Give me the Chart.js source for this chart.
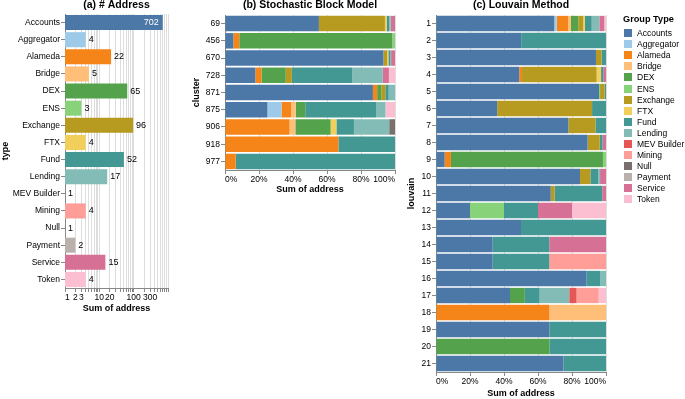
<!DOCTYPE html>
<html>
<head>
<meta charset="utf-8">
<script src="https://cdn.jsdelivr.net/npm/chart.js@4.4.1/dist/chart.umd.min.js"></script>
<style>
  body { margin: 0; background: #fff; }
  #wrap { position: relative; width: 685px; height: 399px; overflow: hidden; font-family: 'Liberation Sans', Arial, sans-serif; }
  #wrap canvas { position: absolute; left: 0; top: 0; }
  #legend { position: absolute; left: 623px; top: 13px; color: #000; }
  #legend .ttl { font-weight: bold; font-size: 9.2px; height: 12px; line-height: 12px; margin-bottom: 2.7px; }
  #legend .item { height: 11.07px; display: flex; align-items: center; font-size: 8.5px; }
  #legend .sw { width: 8px; height: 8px; margin-left: 1px; margin-right: 5px; }
</style>
</head>
<body>
<div id="wrap">
  <canvas id="chartA" width="685" height="399"></canvas>
  <canvas id="chartB" width="685" height="399"></canvas>
  <canvas id="chartC" width="685" height="399"></canvas>
  <div id="legend"></div>
</div>
<script>
// group types, in stacking / legend order
const groupTypes = ['Accounts', 'Aggregator', 'Alameda', 'Bridge', 'DEX', 'ENS', 'Exchange', 'FTX',
  'Fund', 'Lending', 'MEV Builder', 'Mining', 'Null', 'Payment', 'Service', 'Token'];
const groupColors = ['#4c78a8', '#9ecae9', '#f58518', '#ffbf79', '#54a24b', '#88d27a', '#b79a20', '#f2cf5b',
  '#439894', '#83bcb6', '#e45756', '#ff9d98', '#79706e', '#bab0ac', '#d67195', '#fcbfd2'];

// (a) number of addresses per type
const addressCounts = [702, 4, 22, 5, 65, 3, 96, 4, 52, 17, 1, 4, 1, 2, 15, 4];
const logTickValues = [1, 2, 3, 4, 5, 6, 7, 8, 9, 10, 20, 30, 40, 50, 60, 70, 80, 90,
  100, 200, 300, 400, 500, 600, 700, 800, 900, 1000];
const logTickLabels = [1, 2, 3, 10, 20, 100, 300];

// (b) share of address per cluster, columns follow groupTypes
const sbmClusters = ['69', '456', '670', '728', '871', '875', '906', '918', '977'];
const sbmShares = [
  [54.9, 0, 0, 0, 0, 0, 38.6, 1.0, 1.5, 0.9, 0, 0, 0, 0, 2.5, 0],
  [4.9, 0, 3.5, 0, 90.0, 1.6, 0, 0, 0, 0, 0, 0, 0, 0, 0, 0],
  [93.2, 0, 0, 0, 0, 0, 2.2, 0.7, 1.0, 0.6, 0, 0, 0, 0, 2.3, 0],
  [17.9, 0, 3.6, 0, 14.3, 0, 3.6, 0, 35.7, 17.9, 0, 0, 0, 0, 3.6, 3.6],
  [87.0, 0, 2.5, 0, 2.4, 0, 2.4, 0, 2.0, 3.7, 0, 0, 0, 0, 0, 0],
  [25.0, 8.3, 5.6, 2.8, 5.6, 0, 0, 0, 41.7, 5.6, 0, 0, 0, 0, 0, 5.6],
  [0, 0, 37.9, 3.4, 20.7, 0, 0, 3.4, 10.3, 20.7, 0, 0, 3.4, 0, 0, 0],
  [0, 0, 66.7, 0, 0, 0, 0, 0, 33.3, 0, 0, 0, 0, 0, 0, 0],
  [0, 0, 6.3, 0, 0, 0, 0, 0, 93.7, 0, 0, 0, 0, 0, 0, 0]
];

// (c) share of address per louvain community, columns follow groupTypes
const louvainCommunities = ['1', '2', '3', '4', '5', '6', '7', '8', '9', '10', '11',
  '12', '13', '14', '15', '16', '17', '18', '19', '20', '21'];
const louvainShares = [
  [69.6, 1.4, 6.8, 1.6, 4.3, 0, 2.9, 1.0, 4.0, 4.5, 0, 0, 0, 0, 2.9, 1.0],
  [50.1, 0, 0, 0, 0, 0, 0, 0, 49.9, 0, 0, 0, 0, 0, 0, 0],
  [94.1, 0, 0, 0, 0, 0, 3.3, 0, 2.6, 0, 0, 0, 0, 0, 0, 0],
  [49.0, 0, 1.6, 0, 0, 0, 43.9, 2.6, 1.3, 0, 0, 0, 0, 0, 1.6, 0],
  [95.9, 0, 0, 0, 0, 0.6, 2.7, 0, 0.8, 0, 0, 0, 0, 0, 0, 0],
  [36.0, 0, 0, 0, 0, 0, 55.8, 0, 8.2, 0, 0, 0, 0, 0, 0, 0],
  [77.9, 0, 0, 0, 0, 0, 15.9, 0, 6.2, 0, 0, 0, 0, 0, 0, 0],
  [89.2, 0, 0, 0, 0, 0, 7.1, 0, 1.7, 0, 0, 0, 0, 0, 2.0, 0],
  [5.1, 0, 3.7, 0, 89.4, 1.8, 0, 0, 0, 0, 0, 0, 0, 0, 0, 0],
  [84.7, 0, 0, 0, 0, 0, 6.1, 0, 4.7, 1.0, 0, 0, 0, 0, 3.5, 0],
  [67.5, 0, 0, 0, 0, 0, 2.3, 0, 28.0, 0, 0, 0, 0, 0, 2.2, 0],
  [20, 0, 0, 0, 0, 20, 0, 0, 20, 0, 0, 0, 0, 0, 20, 20],
  [50, 0, 0, 0, 0, 0, 0, 0, 50, 0, 0, 0, 0, 0, 0, 0],
  [33.3, 0, 0, 0, 0, 0, 0, 0, 33.3, 0, 0, 0, 0, 0, 33.3, 0],
  [33.3, 0, 0, 0, 0, 0, 0, 0, 33.3, 0, 0, 33.3, 0, 0, 0, 0],
  [88.6, 0, 0, 0, 0, 0, 0, 0, 7.9, 3.5, 0, 0, 0, 0, 0, 0],
  [43.5, 0, 0, 0, 8.7, 0, 0, 0, 8.7, 17.4, 4.3, 13.0, 0, 0, 0, 4.3],
  [0, 0, 66.7, 33.3, 0, 0, 0, 0, 0, 0, 0, 0, 0, 0, 0, 0],
  [66.7, 0, 0, 0, 0, 0, 0, 0, 33.3, 0, 0, 0, 0, 0, 0, 0],
  [0, 0, 0, 0, 66.7, 0, 0, 0, 33.3, 0, 0, 0, 0, 0, 0, 0],
  [75, 0, 0, 0, 0, 0, 0, 0, 25, 0, 0, 0, 0, 0, 0, 0]
];

const FONT = "'Liberation Sans', Arial, sans-serif";
Chart.defaults.font.family = FONT;
Chart.defaults.color = '#000';
Chart.defaults.animation = false;

// panel title drawn centred over the plot area
const panelTitle = {
  id: 'panelTitle',
  afterDraw(chart, args, opts) {
    const { ctx, chartArea } = chart;
    ctx.save();
    ctx.font = 'bold 10.5px ' + FONT;
    ctx.fillStyle = '#000';
    ctx.textAlign = 'center';
    ctx.textBaseline = 'middle';
    ctx.fillText(opts.text, (chartArea.left + chartArea.right) / 2, 5.5);
    ctx.restore();
  }
};

// numbers next to the bars of panel (a)
const barValues = {
  id: 'barValues',
  afterDatasetsDraw(chart) {
    const { ctx } = chart;
    const meta = chart.getDatasetMeta(0);
    const values = chart.data.datasets[0].data;
    const maxVal = Math.max(...values);
    ctx.save();
    ctx.font = '9px ' + FONT;
    ctx.textBaseline = 'middle';
    meta.data.forEach((bar, i) => {
      if (values[i] === maxVal) {
        ctx.fillStyle = '#fff';
        ctx.textAlign = 'right';
        ctx.fillText(values[i], bar.x - 4, bar.y);
      } else {
        ctx.fillStyle = '#000';
        ctx.textAlign = 'left';
        ctx.fillText(values[i], bar.x + 3, bar.y);
      }
    });
    ctx.restore();
  }
};

function axisTitle(text) {
  return { display: true, text, font: { size: 9, weight: 'bold' }, padding: 0, color: '#000' };
}

function catAxis(title, width) {
  return {
    type: 'category',
    stacked: true,
    grid: { display: true, drawOnChartArea: false, offset: false, tickLength: 4, tickColor: '#888' },
    border: { display: true, color: '#888' },
    ticks: { font: { size: 8.5 }, padding: 1, color: '#000', autoSkip: false },
    title: axisTitle(title),
    afterFit: (scale) => { scale.width = width; }
  };
}

function shareAxis(height) {
  return {
    type: 'linear',
    stacked: true,
    min: 0,
    max: 100,
    grid: { color: '#ddd', tickColor: '#888', tickLength: 4 },
    border: { display: true, color: '#888' },
    ticks: { stepSize: 20, font: { size: 8.5 }, padding: 1, color: '#000', align: 'inner', maxRotation: 0,
      callback: (v) => v + '%' },
    title: axisTitle('Sum of address'),
    afterFit: (scale) => { scale.height = height; }
  };
}

function shareDatasets(rows) {
  const totals = rows.map(r => r.reduce((a, b) => a + b, 0));
  return groupTypes.map((g, i) => ({
    label: g,
    backgroundColor: groupColors[i],
    borderWidth: 0,
    barPercentage: 0.9,
    categoryPercentage: 1,
    data: rows.map((r, k) => r[i] / totals[k] * 100)
  }));
}

// (a) # Address
new Chart(document.getElementById('chartA'), {
  type: 'bar',
  data: {
    labels: groupTypes,
    datasets: [{
      label: 'address',
      data: addressCounts,
      backgroundColor: groupColors,
      borderWidth: 0,
      barPercentage: 0.88,
      categoryPercentage: 1
    }]
  },
  options: {
    indexAxis: 'y',
    responsive: false,
    layout: { padding: { left: 0, right: 517, top: 14, bottom: 84.6 } },
    plugins: { legend: { display: false }, tooltip: { enabled: false }, panelTitle: { text: '(a) # Address' } },
    scales: {
      x: {
        type: 'logarithmic',
        min: 1,
        max: 1000,
        grid: { color: '#ddd', tickColor: '#888', tickLength: 4 },
        border: { display: true, color: '#888' },
        afterBuildTicks: (scale) => { scale.ticks = logTickValues.map(v => ({ value: v })); },
        ticks: {
          font: { size: 8.5 }, padding: 1, color: '#000', autoSkip: false, maxRotation: 0, align: 'inner',
          callback: (v) => logTickLabels.includes(v) ? String(v) : ''
        },
        title: axisTitle('Sum of address'),
        afterFit: (scale) => { scale.height = 26.4; }
      },
      y: Object.assign(catAxis('type', 65), { stacked: false })
    }
  },
  plugins: [panelTitle, barValues]
});

// (b) Stochastic Block Model
new Chart(document.getElementById('chartB'), {
  type: 'bar',
  data: { labels: sbmClusters, datasets: shareDatasets(sbmShares) },
  options: {
    indexAxis: 'y',
    responsive: false,
    layout: { padding: { left: 191.6, right: 290, top: 15, bottom: 203.6 } },
    plugins: { legend: { display: false }, tooltip: { enabled: false }, panelTitle: { text: '(b) Stochastic Block Model' } },
    scales: { x: shareAxis(25.4), y: catAxis('cluster', 33.4) }
  },
  plugins: [panelTitle]
});

// (c) Louvain Method
new Chart(document.getElementById('chartC'), {
  type: 'bar',
  data: { labels: louvainCommunities, datasets: shareDatasets(louvainShares) },
  options: {
    indexAxis: 'y',
    responsive: false,
    layout: { padding: { left: 406.6, right: 79, top: 15, bottom: 0 } },
    plugins: { legend: { display: false }, tooltip: { enabled: false }, panelTitle: { text: '(c) Louvain Method' } },
    scales: { x: shareAxis(27), y: catAxis('louvain', 29.4) }
  },
  plugins: [panelTitle]
});

// legend
const legend = document.getElementById('legend');
legend.innerHTML = '<div class="ttl">Group Type</div>' + groupTypes.map((g, i) =>
  `<div class="item"><span class="sw" style="background:${groupColors[i]}"></span>${g}</div>`).join('');
</script>
</body>
</html>
